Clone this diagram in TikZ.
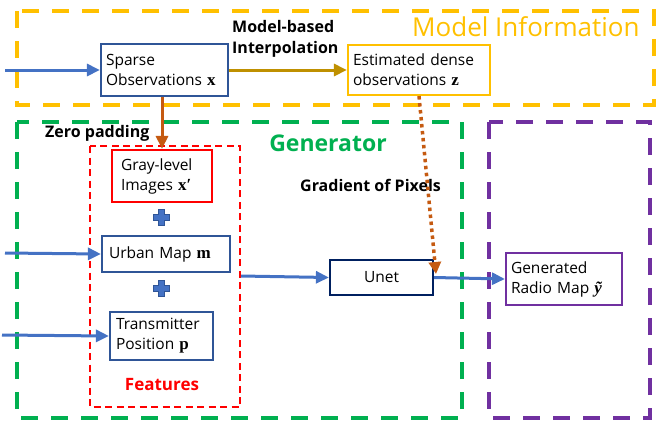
\documentclass[tikz,border=0pt]{standalone}
\usepackage[no-math]{fontspec}
\setmainfont{Open Sans}
\newfontfamily\serf{Liberation Serif}
\newcommand{\bv}[1]{{\serf\bfseries\fontsize{17}{20}\selectfont #1}}
\usetikzlibrary{arrows.meta}
\definecolor{cyel}{HTML}{FFC000}
\definecolor{cgold}{HTML}{BF9000}
\definecolor{corg}{HTML}{C55A11}
\definecolor{cblue}{HTML}{4472C4}
\definecolor{cbox}{HTML}{2F5597}
\definecolor{cnavy}{HTML}{002060}
\definecolor{cgreen}{HTML}{00B050}
\definecolor{cpurp}{HTML}{7030A0}
\definecolor{cred}{HTML}{FF0000}
\tikzset{
  box/.style={draw=cbox, line width=2.2pt, fill=white, inner sep=0pt, align=left,
    font=\fontsize{15.5}{20}\selectfont},
  region/.style={line width=3.2pt, dash pattern=on 17pt off 13pt},
  barrow/.style={draw=cblue, line width=3pt, -{Triangle[length=13pt,width=12pt]}},
  lbl/.style={font=\fontsize{16}{21}\selectfont\bfseries, inner sep=0pt, align=left},
  plusshape/.style={fill=cblue, draw=cbox, line width=0.6pt},
}
\begin{document}
\begin{tikzpicture}[x=1pt,y=-1pt]
\useasboundingbox (0,0) rectangle (671,432);
% regions
\draw[region, cyel] (17,11) rectangle (654,105);
\draw[region, cgreen] (17,122) rectangle (462,418);
\draw[region, cpurp] (489,122) rectangle (650,418);
\draw[line width=2.4pt, cred, dash pattern=on 7pt off 4.5pt] (90,146) rectangle (240,407);

% boxes
\node[box, minimum width=127pt, minimum height=52pt, text width=117pt] (sparse) at (164.5,70) {Sparse\\Observations \bv{x}};
\node[box, draw=cyel, minimum width=142pt, minimum height=50pt, text width=132pt] (est) at (419,70) {Estimated dense\\observations \bv{z}};
\node[box, draw=cred, minimum width=100pt, minimum height=52pt, text width=82pt] (gray) at (162,176) {Gray-level\\Images \bv{x′}};
\node[box, minimum width=128pt, minimum height=36pt, text width=114pt] (urban) at (166,254) {Urban Map \bv{m}};
\node[box, minimum width=103pt, minimum height=48pt, text width=91pt] (trans) at (161.5,336) {Transmitter\\Position \bv{p}};
\node[box, draw=cnavy, minimum width=103pt, minimum height=35pt, align=center] (unet) at (381.5,277.5) {Unet};
\node[box, draw=cpurp, minimum width=116pt, minimum height=52pt, text width=106pt] (gen) at (564,279) {Generated\\Radio Map {\serf\bfseries\itshape\fontsize{17}{20}\selectfont ỹ}};

% labels
\node[lbl, anchor=west] (mbi) at (232,39) {Model-based\\Interpolation};
\node[font=\fontsize{26}{30}\selectfont, text=cyel, inner sep=0pt, anchor=west] (minfo) at (412,27) {Model Information};
\node[font=\fontsize{23}{26}\selectfont\bfseries, text=cgreen, inner sep=0pt] (genlbl) at (328,143) {Generator};
\node[lbl, anchor=west] (zp) at (45,133) {Zero padding};
\node[lbl, anchor=west] (gp) at (300,185) {Gradient of Pixels};
\node[font=\fontsize{17}{20}\selectfont\bfseries, text=cred, inner sep=0pt] (feat) at (162,385) {Features};

% plus signs
\foreach \cx/\cy in {161/217, 161/288}{
  \filldraw[plusshape] (\cx-8,\cy-2.8) -- (\cx-2.8,\cy-2.8) -- (\cx-2.8,\cy-8) -- (\cx+2.8,\cy-8) -- (\cx+2.8,\cy-2.8) -- (\cx+8,\cy-2.8) -- (\cx+8,\cy+2.8) -- (\cx+2.8,\cy+2.8) -- (\cx+2.8,\cy+8) -- (\cx-2.8,\cy+8) -- (\cx-2.8,\cy+2.8) -- (\cx-8,\cy+2.8) -- cycle;
}

% coordinates
\coordinate (in1) at (5,70);
\coordinate (in2) at (5,253);
\coordinate (in3) at (2,335);
\coordinate (fout) at (241,276);
\coordinate (gtip) at (436,274);

% connectors
\draw[barrow] (in1) -- (sparse.west);
\draw[barrow] (in2) -- (urban.west);
\draw[barrow] (in3) -- (trans.west);
\draw[barrow] (fout) -- (unet.west);
\draw[barrow] (unet.east) -- (gen.west);
\draw[line width=3pt, cgold, -{Triangle[length=13pt,width=12pt]}] (sparse.east) -- (est.west);
\draw[line width=3pt, corg, -{Triangle[length=13pt,width=12pt]}] (sparse.south -| gray.north) -- (gray.north);
\draw[line width=3.5pt, corg, dash pattern=on 3.5pt off 3.5pt, -{Triangle[length=12pt,width=12pt]}] (est.south) -- (gtip);
\end{tikzpicture}
\end{document}
